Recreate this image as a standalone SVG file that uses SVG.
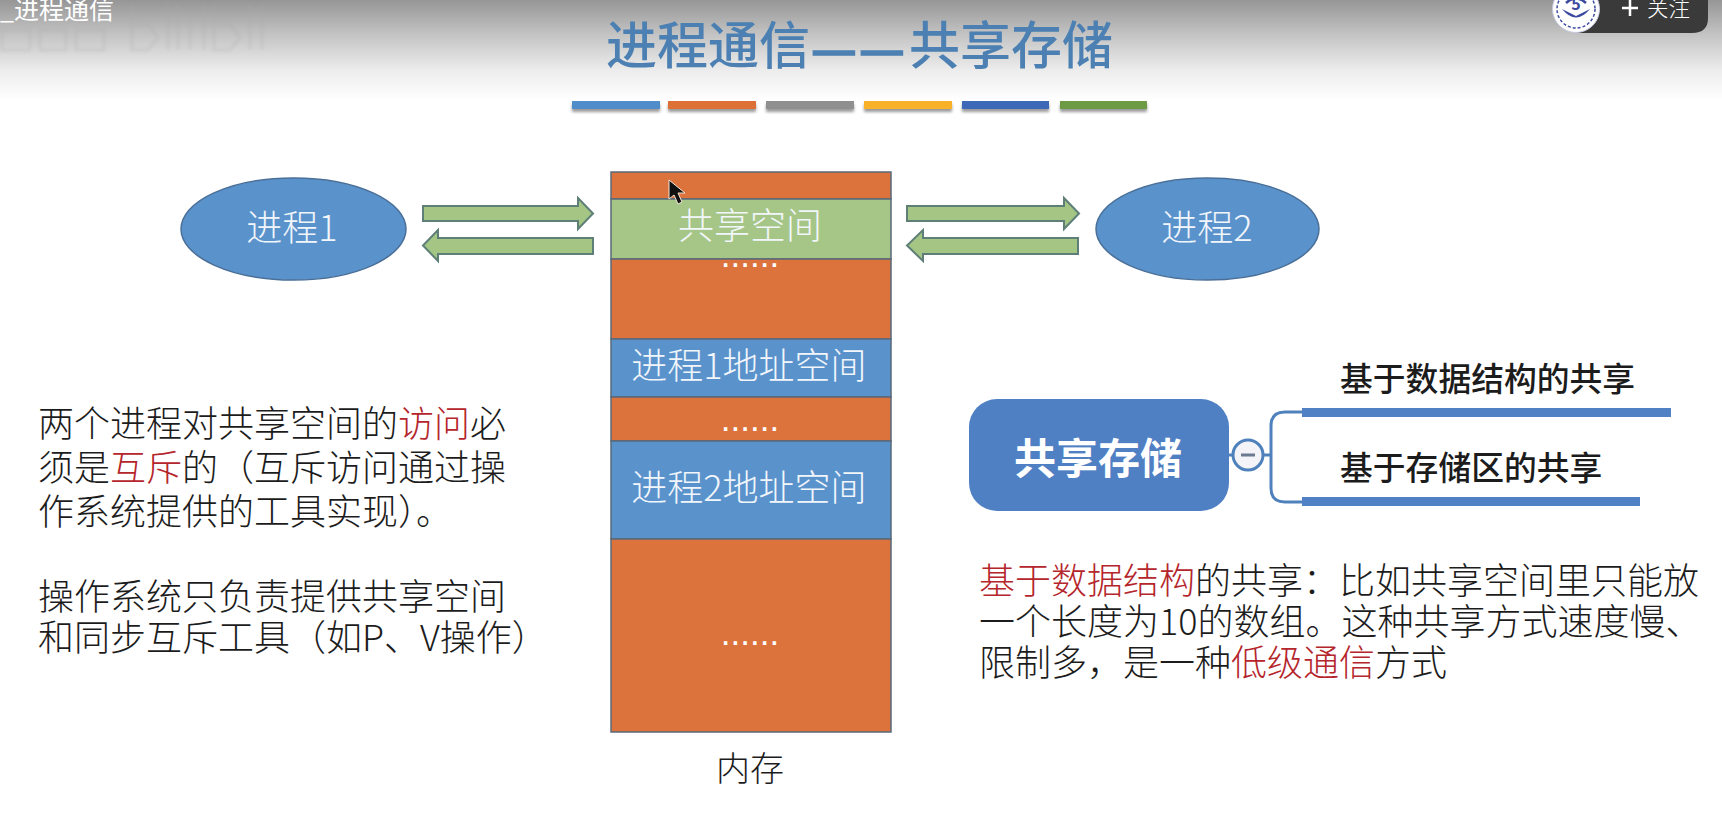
<svg xmlns="http://www.w3.org/2000/svg" width="1722" height="828" viewBox="0 0 1722 828">
<defs>
<linearGradient id="topfade" x1="0" y1="0" x2="0" y2="1"><stop offset="0" stop-color="#969696"/><stop offset="0.35" stop-color="#c4c4c4"/><stop offset="0.7" stop-color="#ececec"/><stop offset="1" stop-color="#ffffff"/></linearGradient>
<filter id="shadow" x="-10%" y="-50%" width="120%" height="250%"><feGaussianBlur in="SourceAlpha" stdDeviation="1.5"/><feOffset dy="3"/><feComponentTransfer><feFuncA type="linear" slope="0.4"/></feComponentTransfer><feMerge><feMergeNode/><feMergeNode in="SourceGraphic"/></feMerge></filter>
<filter id="soft"><feGaussianBlur stdDeviation="1.5"/></filter>
</defs>
<style>
text{font-family:"Noto Sans CJK SC","Noto Sans",sans-serif}
.w{fill:#f2f6fb;font-size:36px;text-anchor:middle;font-weight:300}
.b{fill:#1c1c1c;font-size:36px;font-weight:300}
.r{fill:#b5262c}
.h{fill:#1c1c1c;font-size:32.800px;font-weight:500}
.dots{fill:#fff;font-size:35px;text-anchor:middle;font-family:"Liberation Sans",sans-serif}
.arrow{fill:#a5c584;stroke:#5d7f78;stroke-width:2}
.band{stroke:#59697a;stroke-width:1.500}
.o{fill:#dd733c}.g{fill:#a6c688}.bl{fill:#5a93cc}
.ell{fill:#5a93cc;stroke:#4a6f98;stroke-width:1.500}
.lnk{fill:none;stroke:#4f81bd;stroke-width:3}
.dash{stroke:#4c80b3;stroke-width:1.500}
</style>
<rect width="1722" height="828" fill="#fff"/>
<g id="header">
<rect width="1722" height="100" fill="url(#topfade)"/>
<g id="watermark" fill="none" stroke="#aaa" stroke-width="3" opacity="0.25" filter="url(#soft)">
<path d="M132 4V50H148L158 38L148 24H134M168 4V50M178 4V50M190 16V50M204 4V50M214 4V50H230L240 38L230 24H216M250 4V50M262 4V50"/>
<path d="M2 30H30V50H2ZM40 30H66V50H40ZM76 30H104V50H76Z"/>
</g>
<text x="0" y="19" font-size="25" fill="#fff">_进程通信</text>
<text id="title" x="606" y="64" font-size="51" fill="#4c80b3" font-weight="500">进程通信<tspan class="dash" x="811" y="67">—</tspan><tspan class="dash" x="859" y="67">—</tspan><tspan x="909" y="64">共享存储</tspan></text>
<g filter="url(#shadow)">
<rect x="572" y="101" width="88" height="8" fill="#4f8cc9"/>
<rect x="668" y="101" width="88" height="8" fill="#dd6f36"/>
<rect x="766" y="101" width="88" height="8" fill="#8f8f8f"/>
<rect x="864" y="101" width="88" height="8" fill="#f9b12c"/>
<rect x="962" y="101" width="87" height="8" fill="#3c68b8"/>
<rect x="1060" y="101" width="87" height="8" fill="#6c9a45"/>
</g>
</g>
<g id="follow-badge">
<path d="M1575 0H1708V18Q1708 33 1692 33H1575Z" fill="#3a3a3a"/>
<circle cx="1576" cy="9" r="23.500" fill="#fff" stroke="#c8cbe0"/>
<circle cx="1576" cy="9" r="19" fill="none" stroke="#3c4aa0" stroke-width="1.500" stroke-dasharray="3 2"/>
<path d="M1562 9Q1576 26 1590 9L1576 16Z" fill="#3c4aa0"/>
<path d="M1566 3Q1576 -6 1586 3" fill="none" stroke="#3c4aa0" stroke-width="2.500"/>
<text x="1576" y="10" font-size="16" font-weight="700" text-anchor="middle" fill="#3c4aa0">5</text>
<path d="M1622 8H1638M1630 0V16" stroke="#fff" stroke-width="2.500"/>
<text x="1647" y="16" font-size="21.500" fill="#fff" font-weight="300">关注</text>
</g>
<g id="connectors">
<path class="arrow" d="M423 206H578V198L593 213.500L578 229V221H423Z"/>
<path class="arrow" d="M593 238H438V230L423 245.500L438 261V254H593Z"/>
<path class="arrow" d="M907 206H1064V198L1079 213.500L1064 229V221H907Z"/>
<path class="arrow" d="M1078 238H923V230L907 245.500L923 261V254H1078Z"/>
<path class="lnk" d="M1229 455H1233M1263 455H1271M1302 412H1285Q1271 412 1271 426V488Q1271 502 1285 502H1302"/>
</g>
<g id="process1"><ellipse class="ell" cx="293.500" cy="229" rx="112.500" ry="51"/><text class="w" x="292" y="241">进程1</text></g>
<g id="process2"><ellipse class="ell" cx="1207.500" cy="229" rx="111.500" ry="51"/><text class="w" x="1207" y="241">进程2</text></g>
<g id="memory">
<rect class="band o" x="611" y="172" width="280" height="27"/>
<rect class="band g" x="611" y="199" width="280" height="60"/>
<text class="w" x="750" y="239">共享空间</text>
<rect class="band o" x="611" y="259" width="280" height="80"/>
<text class="dots" x="750" y="267">......</text>
<rect class="band bl" x="611" y="339" width="280" height="58"/>
<text class="w" x="749" y="379">进程1地址空间</text>
<rect class="band o" x="611" y="397" width="280" height="44"/>
<text class="dots" x="750" y="431">......</text>
<rect class="band bl" x="611" y="441" width="280" height="98"/>
<text class="w" x="749" y="501">进程2地址空间</text>
<rect class="band o" x="611" y="539" width="280" height="193"/>
<text class="dots" x="750" y="645">......</text>
<text x="750" y="781" font-size="34" text-anchor="middle" fill="#1c1c1c" font-weight="300">内存</text>
</g>
<path id="cursor" d="M669 180V199L674 195L678 204L682 202L678 193L685 193Z" fill="#111" stroke="#f4e6d8" stroke-width="1"/>
<g id="note-left">
<text class="b" x="38" y="437">两个进程对共享空间的<tspan class="r">访问</tspan>必</text>
<text class="b" x="38" y="481">须是<tspan class="r">互斥</tspan>的（互斥访问通过操</text>
<text class="b" x="38" y="525">作系统提供的工具实现）。</text>
<text class="b" x="38" y="610">操作系统只负责提供共享空间</text>
<text class="b" x="38" y="651">和同步互斥工具（如P、V操作）</text>
</g>
<g id="shared-storage">
<rect x="969" y="399" width="260" height="112" rx="28" fill="#5080c4"/>
<text x="1098" y="474" font-size="42" font-weight="700" text-anchor="middle" fill="#fff">共享存储</text>
<circle cx="1248" cy="455" r="15" fill="#f4f4f8" stroke="#4f81bd" stroke-width="3"/>
<rect x="1241" y="453.500" width="14" height="3" fill="#6c7a90"/>
</g>
<g id="branch-data"><rect x="1302" y="408" width="369" height="9" fill="#4f81c4"/><text class="h" x="1340" y="391">基于数据结构的共享</text></g>
<g id="branch-area"><rect x="1302" y="497" width="338" height="9" fill="#4f81c4"/><text class="h" x="1340" y="480">基于存储区的共享</text></g>
<g id="note-right">
<text class="b" x="979" y="594"><tspan class="r">基于数据结构</tspan>的共享：比如共享空间里只能放</text>
<text class="b" x="979" y="635">一个长度为10的数组。这种共享方式速度慢、</text>
<text class="b" x="979" y="676">限制多，是一种<tspan class="r">低级通信</tspan>方式</text>
</g>
</svg>
